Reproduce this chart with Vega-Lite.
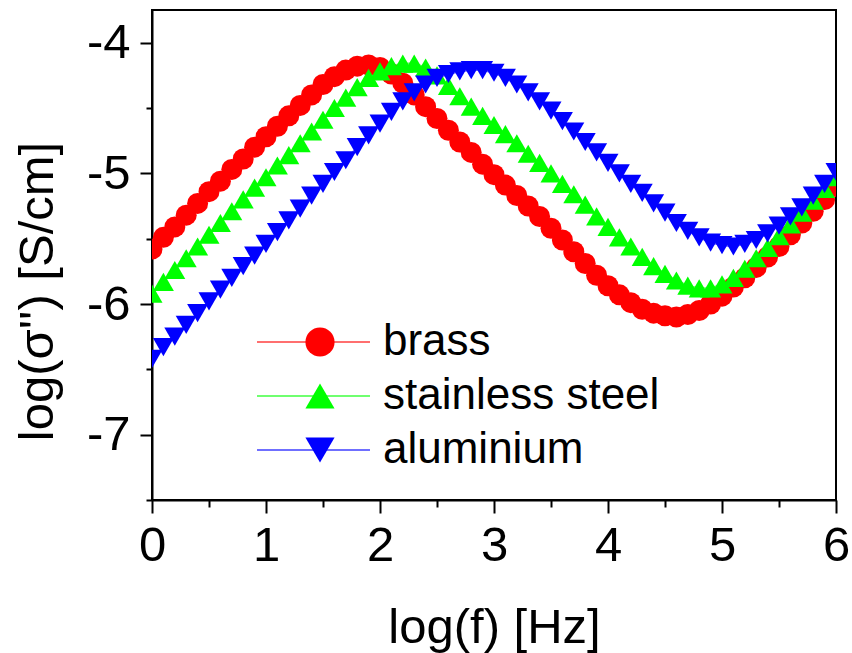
{
"$schema": "https://vega.github.io/schema/vega-lite/v6.json",
"width": 684,
"height": 490,
"autosize": {"type": "none"},
"padding": {"left": 152, "top": 10, "right": 16, "bottom": 153},
"background": "white",
"config": {
  "font": "Liberation Sans",
  "view": {"stroke": "black", "strokeWidth": 2},
  "axis": {"domainColor": "black", "domainWidth": 2, "tickColor": "black", "tickWidth": 2, "labelColor": "black", "titleColor": "black", "labelFont": "Liberation Sans", "titleFont": "Liberation Sans", "labelFontSize": 49, "titleFontSize": 49, "titleFontWeight": "normal", "grid": false, "labelOverlap": false, "labelBound": false, "labelFlush": false}
},
"data": {"values": [
{"f":0.0,"s":-5.58,"m":"brass"},{"f":0.1,"s":-5.49,"m":"brass"},{"f":0.2,"s":-5.41,"m":"brass"},{"f":0.3,"s":-5.32,"m":"brass"},{"f":0.4,"s":-5.23,"m":"brass"},{"f":0.5,"s":-5.14,"m":"brass"},{"f":0.6,"s":-5.06,"m":"brass"},{"f":0.7,"s":-4.97,"m":"brass"},{"f":0.8,"s":-4.89,"m":"brass"},{"f":0.9,"s":-4.80,"m":"brass"},
{"f":1.0,"s":-4.72,"m":"brass"},{"f":1.1,"s":-4.64,"m":"brass"},{"f":1.2,"s":-4.56,"m":"brass"},{"f":1.3,"s":-4.48,"m":"brass"},{"f":1.4,"s":-4.40,"m":"brass"},{"f":1.5,"s":-4.32,"m":"brass"},{"f":1.6,"s":-4.26,"m":"brass"},{"f":1.7,"s":-4.21,"m":"brass"},{"f":1.8,"s":-4.18,"m":"brass"},{"f":1.9,"s":-4.17,"m":"brass"},
{"f":2.0,"s":-4.19,"m":"brass"},{"f":2.1,"s":-4.24,"m":"brass"},{"f":2.2,"s":-4.31,"m":"brass"},{"f":2.3,"s":-4.40,"m":"brass"},{"f":2.4,"s":-4.49,"m":"brass"},{"f":2.5,"s":-4.58,"m":"brass"},{"f":2.6,"s":-4.67,"m":"brass"},{"f":2.7,"s":-4.76,"m":"brass"},{"f":2.8,"s":-4.84,"m":"brass"},{"f":2.9,"s":-4.93,"m":"brass"},
{"f":3.0,"s":-5.01,"m":"brass"},{"f":3.1,"s":-5.09,"m":"brass"},{"f":3.2,"s":-5.17,"m":"brass"},{"f":3.3,"s":-5.25,"m":"brass"},{"f":3.4,"s":-5.33,"m":"brass"},{"f":3.5,"s":-5.42,"m":"brass"},{"f":3.6,"s":-5.51,"m":"brass"},{"f":3.7,"s":-5.60,"m":"brass"},{"f":3.8,"s":-5.69,"m":"brass"},{"f":3.9,"s":-5.78,"m":"brass"},
{"f":4.0,"s":-5.86,"m":"brass"},{"f":4.1,"s":-5.93,"m":"brass"},{"f":4.2,"s":-5.99,"m":"brass"},{"f":4.3,"s":-6.04,"m":"brass"},{"f":4.4,"s":-6.07,"m":"brass"},{"f":4.5,"s":-6.09,"m":"brass"},{"f":4.6,"s":-6.10,"m":"brass"},{"f":4.7,"s":-6.08,"m":"brass"},{"f":4.8,"s":-6.05,"m":"brass"},{"f":4.9,"s":-6.00,"m":"brass"},
{"f":5.0,"s":-5.94,"m":"brass"},{"f":5.1,"s":-5.87,"m":"brass"},{"f":5.2,"s":-5.80,"m":"brass"},{"f":5.3,"s":-5.72,"m":"brass"},{"f":5.4,"s":-5.64,"m":"brass"},{"f":5.5,"s":-5.56,"m":"brass"},{"f":5.6,"s":-5.47,"m":"brass"},{"f":5.7,"s":-5.38,"m":"brass"},{"f":5.8,"s":-5.29,"m":"brass"},{"f":5.9,"s":-5.20,"m":"brass"},{"f":6.0,"s":-5.10,"m":"brass"},
{"f":0.0,"s":-5.92,"m":"stainless steel"},{"f":0.1,"s":-5.83,"m":"stainless steel"},{"f":0.2,"s":-5.74,"m":"stainless steel"},{"f":0.3,"s":-5.65,"m":"stainless steel"},{"f":0.4,"s":-5.56,"m":"stainless steel"},{"f":0.5,"s":-5.47,"m":"stainless steel"},{"f":0.6,"s":-5.38,"m":"stainless steel"},{"f":0.7,"s":-5.29,"m":"stainless steel"},{"f":0.8,"s":-5.20,"m":"stainless steel"},{"f":0.9,"s":-5.11,"m":"stainless steel"},
{"f":1.0,"s":-5.03,"m":"stainless steel"},{"f":1.1,"s":-4.94,"m":"stainless steel"},{"f":1.2,"s":-4.86,"m":"stainless steel"},{"f":1.3,"s":-4.77,"m":"stainless steel"},{"f":1.4,"s":-4.68,"m":"stainless steel"},{"f":1.5,"s":-4.59,"m":"stainless steel"},{"f":1.6,"s":-4.50,"m":"stainless steel"},{"f":1.7,"s":-4.42,"m":"stainless steel"},{"f":1.8,"s":-4.34,"m":"stainless steel"},{"f":1.9,"s":-4.27,"m":"stainless steel"},
{"f":2.0,"s":-4.22,"m":"stainless steel"},{"f":2.1,"s":-4.18,"m":"stainless steel"},{"f":2.2,"s":-4.16,"m":"stainless steel"},{"f":2.3,"s":-4.16,"m":"stainless steel"},{"f":2.4,"s":-4.19,"m":"stainless steel"},{"f":2.5,"s":-4.25,"m":"stainless steel"},{"f":2.6,"s":-4.33,"m":"stainless steel"},{"f":2.7,"s":-4.41,"m":"stainless steel"},{"f":2.8,"s":-4.49,"m":"stainless steel"},{"f":2.9,"s":-4.56,"m":"stainless steel"},
{"f":3.0,"s":-4.63,"m":"stainless steel"},{"f":3.1,"s":-4.70,"m":"stainless steel"},{"f":3.2,"s":-4.77,"m":"stainless steel"},{"f":3.3,"s":-4.85,"m":"stainless steel"},{"f":3.4,"s":-4.92,"m":"stainless steel"},{"f":3.5,"s":-5.00,"m":"stainless steel"},{"f":3.6,"s":-5.08,"m":"stainless steel"},{"f":3.7,"s":-5.16,"m":"stainless steel"},{"f":3.8,"s":-5.24,"m":"stainless steel"},{"f":3.9,"s":-5.33,"m":"stainless steel"},
{"f":4.0,"s":-5.41,"m":"stainless steel"},{"f":4.1,"s":-5.49,"m":"stainless steel"},{"f":4.2,"s":-5.56,"m":"stainless steel"},{"f":4.3,"s":-5.64,"m":"stainless steel"},{"f":4.4,"s":-5.71,"m":"stainless steel"},{"f":4.5,"s":-5.77,"m":"stainless steel"},{"f":4.6,"s":-5.82,"m":"stainless steel"},{"f":4.7,"s":-5.86,"m":"stainless steel"},{"f":4.8,"s":-5.88,"m":"stainless steel"},{"f":4.9,"s":-5.88,"m":"stainless steel"},
{"f":5.0,"s":-5.85,"m":"stainless steel"},{"f":5.1,"s":-5.80,"m":"stainless steel"},{"f":5.2,"s":-5.73,"m":"stainless steel"},{"f":5.3,"s":-5.65,"m":"stainless steel"},{"f":5.4,"s":-5.57,"m":"stainless steel"},{"f":5.5,"s":-5.48,"m":"stainless steel"},{"f":5.6,"s":-5.39,"m":"stainless steel"},{"f":5.7,"s":-5.30,"m":"stainless steel"},{"f":5.8,"s":-5.21,"m":"stainless steel"},{"f":5.9,"s":-5.12,"m":"stainless steel"},{"f":6.0,"s":-5.03,"m":"stainless steel"},
{"f":0.0,"s":-6.42,"m":"aluminium"},{"f":0.1,"s":-6.33,"m":"aluminium"},{"f":0.2,"s":-6.25,"m":"aluminium"},{"f":0.3,"s":-6.16,"m":"aluminium"},{"f":0.4,"s":-6.07,"m":"aluminium"},{"f":0.5,"s":-5.98,"m":"aluminium"},{"f":0.6,"s":-5.89,"m":"aluminium"},{"f":0.7,"s":-5.80,"m":"aluminium"},{"f":0.8,"s":-5.71,"m":"aluminium"},{"f":0.9,"s":-5.63,"m":"aluminium"},
{"f":1.0,"s":-5.54,"m":"aluminium"},{"f":1.1,"s":-5.45,"m":"aluminium"},{"f":1.2,"s":-5.36,"m":"aluminium"},{"f":1.3,"s":-5.27,"m":"aluminium"},{"f":1.4,"s":-5.17,"m":"aluminium"},{"f":1.5,"s":-5.08,"m":"aluminium"},{"f":1.6,"s":-4.99,"m":"aluminium"},{"f":1.7,"s":-4.90,"m":"aluminium"},{"f":1.8,"s":-4.80,"m":"aluminium"},{"f":1.9,"s":-4.71,"m":"aluminium"},
{"f":2.0,"s":-4.62,"m":"aluminium"},{"f":2.1,"s":-4.53,"m":"aluminium"},{"f":2.2,"s":-4.45,"m":"aluminium"},{"f":2.3,"s":-4.38,"m":"aluminium"},{"f":2.4,"s":-4.32,"m":"aluminium"},{"f":2.5,"s":-4.27,"m":"aluminium"},{"f":2.6,"s":-4.24,"m":"aluminium"},{"f":2.7,"s":-4.22,"m":"aluminium"},{"f":2.8,"s":-4.21,"m":"aluminium"},{"f":2.9,"s":-4.21,"m":"aluminium"},
{"f":3.0,"s":-4.23,"m":"aluminium"},{"f":3.1,"s":-4.27,"m":"aluminium"},{"f":3.2,"s":-4.32,"m":"aluminium"},{"f":3.3,"s":-4.38,"m":"aluminium"},{"f":3.4,"s":-4.45,"m":"aluminium"},{"f":3.5,"s":-4.52,"m":"aluminium"},{"f":3.6,"s":-4.60,"m":"aluminium"},{"f":3.7,"s":-4.68,"m":"aluminium"},{"f":3.8,"s":-4.76,"m":"aluminium"},{"f":3.9,"s":-4.84,"m":"aluminium"},
{"f":4.0,"s":-4.92,"m":"aluminium"},{"f":4.1,"s":-5.00,"m":"aluminium"},{"f":4.2,"s":-5.08,"m":"aluminium"},{"f":4.3,"s":-5.15,"m":"aluminium"},{"f":4.4,"s":-5.23,"m":"aluminium"},{"f":4.5,"s":-5.30,"m":"aluminium"},{"f":4.6,"s":-5.38,"m":"aluminium"},{"f":4.7,"s":-5.44,"m":"aluminium"},{"f":4.8,"s":-5.49,"m":"aluminium"},{"f":4.9,"s":-5.53,"m":"aluminium"},
{"f":5.0,"s":-5.55,"m":"aluminium"},{"f":5.1,"s":-5.56,"m":"aluminium"},{"f":5.2,"s":-5.54,"m":"aluminium"},{"f":5.3,"s":-5.51,"m":"aluminium"},{"f":5.4,"s":-5.46,"m":"aluminium"},{"f":5.5,"s":-5.40,"m":"aluminium"},{"f":5.6,"s":-5.33,"m":"aluminium"},{"f":5.7,"s":-5.26,"m":"aluminium"},{"f":5.8,"s":-5.17,"m":"aluminium"},{"f":5.9,"s":-5.08,"m":"aluminium"},{"f":6.0,"s":-4.99,"m":"aluminium"}
]},
"resolve": {"axis": {"x": "independent", "y": "independent"}},
"layer": [
  {"mark": {"type": "line", "strokeWidth": 2, "clip": true},
   "encoding": {
     "x": {"field": "f", "type": "quantitative", "scale": {"domain": [0, 6], "nice": false, "zero": false},
       "axis": {"orient": "bottom", "title": "log(f) [Hz]", "values": [0,1,2,3,4,5,6], "labelExpr": "'' + datum.value", "tickSize": 13, "labelPadding": 8, "titlePadding": 33}},
     "y": {"field": "s", "type": "quantitative", "scale": {"domain": [-7.5, -3.75], "nice": false, "zero": false},
       "axis": {"orient": "left", "title": "log(σ'') [S/cm]", "values": [-7,-6,-5,-4], "labelExpr": "'' + datum.value", "tickSize": 12, "labelPadding": 10, "titlePadding": 24, "titleY": 281}},
     "stroke": {"field": "m", "type": "nominal", "sort": ["brass", "stainless steel", "aluminium"], "scale": {"range": ["#ff6f6f", "#6fff6f", "#6f6fff"]},
       "legend": {"orient": "none", "legendX": 139.5, "legendY": 310, "title": null, "symbolType": "M-2.69,0L2.69,0", "symbolSize": 1764, "symbolStrokeWidth": 2, "labelExpr": "''", "labelFontSize": 44, "padding": 0, "rowPadding": 10}}
   }},
  {"mark": {"type": "point", "filled": true, "size": 441, "opacity": 1, "strokeWidth": 0, "clip": true},
   "encoding": {
     "x": {"field": "f", "type": "quantitative",
       "axis": {"orient": "bottom", "title": null, "values": [0.5,1.5,2.5,3.5,4.5,5.5], "labels": false, "domain": false, "tickSize": 7}},
     "y": {"field": "s", "type": "quantitative",
       "axis": {"orient": "left", "title": null, "values": [-7.5,-6.5,-5.5,-4.5], "labels": false, "domain": false, "tickSize": 6}},
     "fill": {"field": "m", "type": "nominal", "scale": {"domain": ["brass", "stainless steel", "aluminium"], "range": ["#ff0000", "#00ff00", "#0000ff"]},
       "legend": {"orient": "none", "legendX": 146, "legendY": 310, "title": null, "symbolSize": 850, "symbolStrokeWidth": 0, "symbolOpacity": 1, "labelFontSize": 44, "labelFont": "Liberation Sans", "labelColor": "black", "labelOffset": 41, "labelLimit": 400, "padding": 0, "rowPadding": 10}},
     "shape": {"field": "m", "type": "nominal", "scale": {"domain": ["brass", "stainless steel", "aluminium"], "range": ["circle", "triangle-up", "triangle-down"]},
       "legend": {"orient": "none", "legendX": 146, "legendY": 310, "title": null, "symbolSize": 850, "symbolStrokeWidth": 0, "symbolOpacity": 1, "labelFontSize": 44, "labelFont": "Liberation Sans", "labelColor": "black", "labelOffset": 41, "labelLimit": 400, "padding": 0, "rowPadding": 10}}
   }}
]
}
